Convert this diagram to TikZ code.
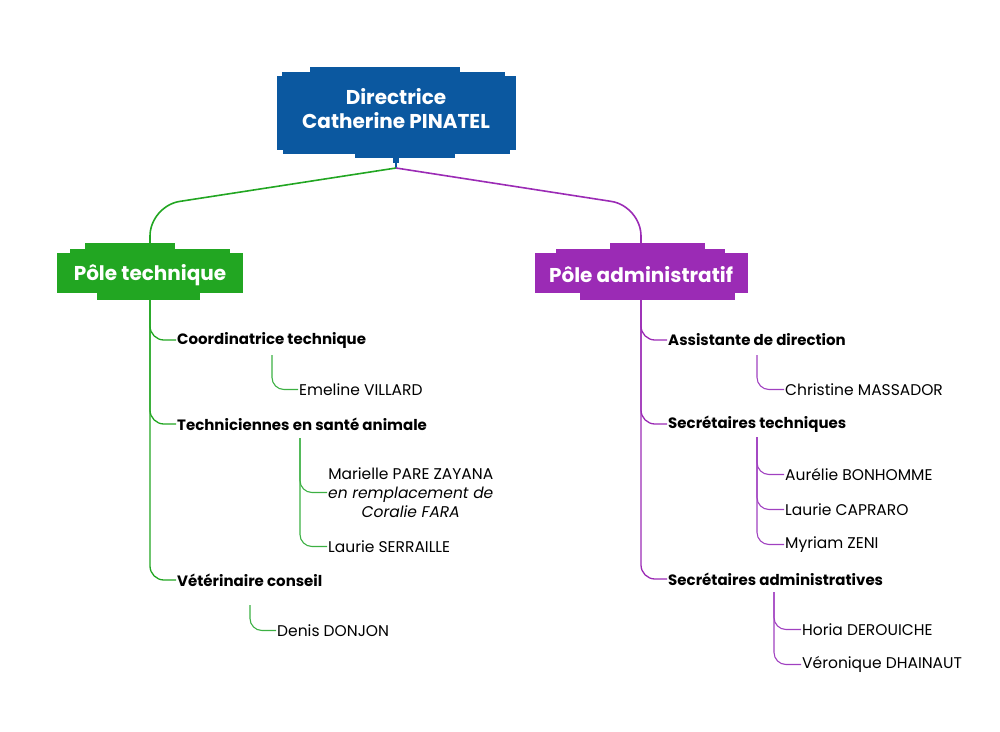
\documentclass[tikz,border=0pt]{standalone}
\usepackage{fontspec}
\setmainfont{Poppins}
\definecolor{dblue}{HTML}{0B58A0}
\definecolor{pgreen}{HTML}{22A622}
\definecolor{ppurple}{HTML}{9B2BB5}
\definecolor{lgreen}{HTML}{3CB043}
\definecolor{lpurple}{HTML}{A040C0}
\begin{document}
\begin{tikzpicture}[x=1pt,y=-1pt,
  head/.style={text=white,font=\bfseries\fontsize{20}{24}\selectfont,align=center,inner sep=0pt},
  pole/.style={text=white,font=\bfseries\fontsize{20}{20}\selectfont,inner sep=0pt},
  role/.style={anchor=west,font=\bfseries\fontsize{15}{15}\selectfont,inner sep=1pt,yshift=-2pt},
  person/.style={anchor=west,font=\fontsize{15.5}{19}\selectfont,inner sep=1pt,yshift=-1.5pt},
  glink/.style={draw=lgreen,line width=1.1pt,rounded corners=12pt},
  plink/.style={draw=lpurple,line width=1.1pt,rounded corners=12pt},
  gmain/.style={draw=pgreen,line width=1.6pt,rounded corners=30pt},
  pmain/.style={draw=ppurple,line width=1.6pt,rounded corners=30pt}]
\useasboundingbox (0,0) rectangle (1000,731);
% brush boxes
\fill[dblue] (277,76) rectangle (516,150);
\fill[dblue] (282,72) rectangle (505,78);
\fill[dblue] (310,67) rectangle (460,73);
\fill[dblue] (283,148) rectangle (510,154);
\fill[dblue] (355,150) rectangle (455,158);
\fill[dblue] (393,156) rectangle (399,163);
\fill[pgreen] (57,253) rectangle (243,293);
\fill[pgreen] (70,249) rectangle (230,255);
\fill[pgreen] (85,243) rectangle (175,250);
\fill[pgreen] (97,291) rectangle (200,300);
\fill[ppurple] (535,253) rectangle (748,293);
\fill[ppurple] (556,249) rectangle (725,255);
\fill[ppurple] (610,243) rectangle (705,250);
\fill[ppurple] (580,291) rectangle (735,300);
% nodes
\node[head] (dir) at (396,109) {Directrice\\Catherine PINATEL};
\node[pole] (pt) at (150,275) {Pôle technique};
\node[pole] (pa) at (641,275) {Pôle administratif};
\coordinate (hub) at (396,168);
\coordinate (ptop) at (150,243);
\coordinate (pbot) at (150,300);
\coordinate (atop) at (641,243);
\coordinate (abot) at (641,300);
\draw[draw=dblue,line width=1.6pt] (dir.south |- 0,158) -- (hub);
\draw[gmain] (hub) -- (150,206) -- (ptop);
\draw[pmain] (hub) -- (641,206) -- (atop);
% left
\node[role] (ct) at (176,338) {Coordinatrice technique};
\node[role] (tsa) at (176,422) {Techniciennes en santé animale};
\node[role] (vc) at (176,578) {Vétérinaire conseil};
\node[person] (ev) at (298,388) {Emeline VILLARD};
\node[person,align=center] (mp) at (327,491) {Marielle PARE ZAYANA\\\itshape en remplacement de\\\itshape Coralie FARA};
\node[person] (ls) at (327,545) {Laurie SERRAILLE};
\node[person] (dd) at (276,629) {Denis DONJON};
\draw[gmain,line width=1.3pt,rounded corners=14pt] (pbot) |- (ct.west);
\draw[gmain,line width=1.3pt,rounded corners=14pt] (pbot) |- (tsa.west);
\draw[gmain,line width=1.3pt,rounded corners=14pt] (pbot) |- (vc.west);
\coordinate (evs) at (272,355);
\coordinate (tss) at (300,438);
\coordinate (dds) at (250,605);
\draw[glink] (evs) |- (ev.west);
\draw[glink] (tss) |- (mp.west);
\draw[glink] (tss) |- (ls.west);
\draw[glink] (dds) |- (dd.west);
% right
\node[role] (ad) at (667,338) {Assistante de direction};
\node[role] (st) at (667,422) {Secrétaires techniques};
\node[role] (sa) at (667,577) {Secrétaires administratives};
\node[person] (cm) at (784,388) {Christine MASSADOR};
\node[person] (ab) at (784,473) {Aurélie BONHOMME};
\node[person] (lc) at (784,508) {Laurie CAPRARO};
\node[person] (mz) at (784,543) {Myriam ZENI};
\node[person] (hd) at (801,628) {Horia DEROUICHE};
\node[person] (vd) at (801,663) {Véronique DHAINAUT};
\draw[pmain,line width=1.3pt,rounded corners=14pt] (abot) |- (ad.west);
\draw[pmain,line width=1.3pt,rounded corners=14pt] (abot) |- (st.west);
\draw[pmain,line width=1.3pt,rounded corners=14pt] (abot) |- (sa.west);
\coordinate (cms) at (757,355);
\coordinate (sts) at (757,437);
\coordinate (sas) at (774,592);
\draw[plink] (cms) |- (cm.west);
\draw[plink] (sts) |- (ab.west);
\draw[plink] (sts) |- (lc.west);
\draw[plink] (sts) |- (mz.west);
\draw[plink] (sas) |- (hd.west);
\draw[plink] (sas) |- (vd.west);
\end{tikzpicture}
\end{document}
